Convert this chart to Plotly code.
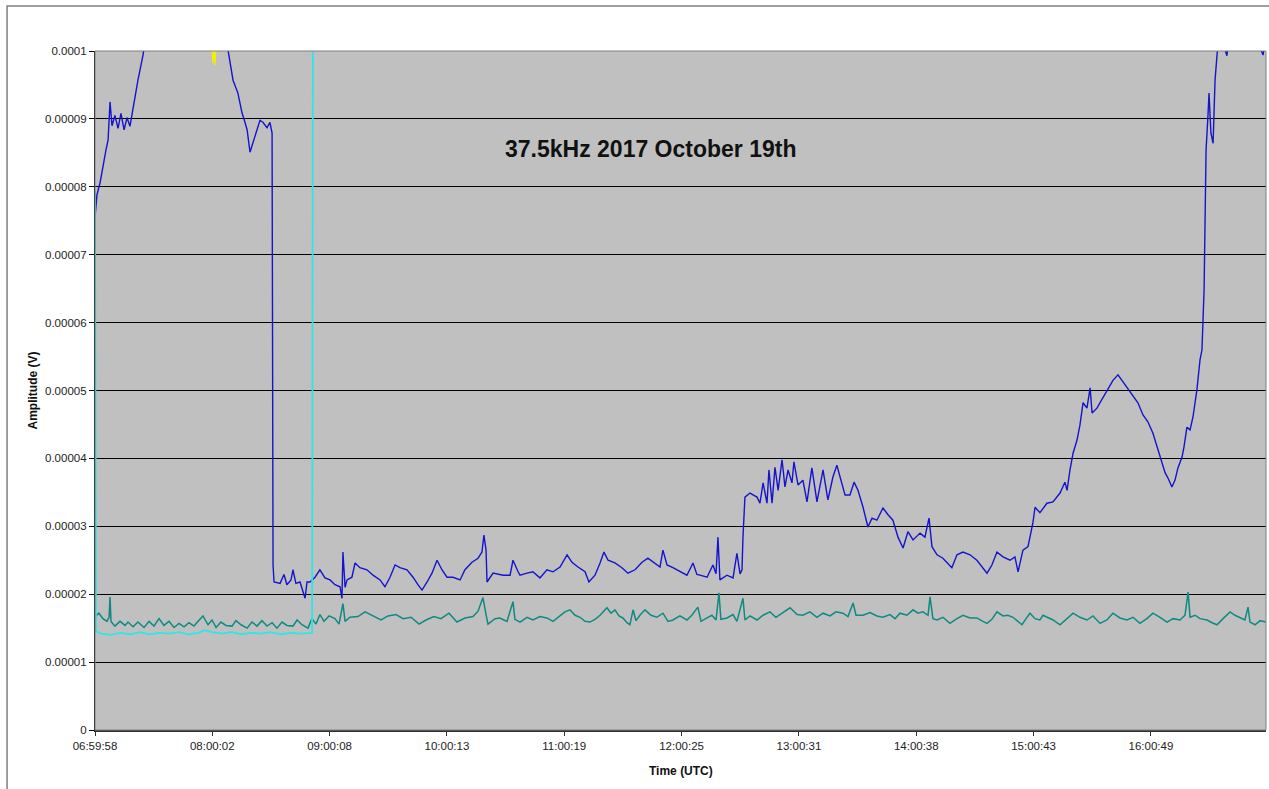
import plotly.graph_objects as go

# ---------------- data ----------------
START_LABEL = "06:59:58"
END_MINUTES = 599.8          # axis end, minutes after start

x_tick_labels = ["06:59:58", "08:00:02", "09:00:08", "10:00:13", "11:00:19",
                 "12:00:25", "13:00:31", "14:00:38", "15:00:43", "16:00:49"]
y_tick_labels = ["0", "0.00001", "0.00002", "0.00003", "0.00004", "0.00005",
                 "0.00006", "0.00007", "0.00008", "0.00009", "0.0001"]

# minutes after 06:59:58, amplitude in microvolts
blue_min = [0.0, 1.0, 2.6, 4.1, 5.6, 6.7, 7.7, 8.7, 10.2, 11.8, 13.3, 14.9, 16.4, 17.9, 19.5,
            21.0, 22.0, 23.6, 24.6, 25.6, 33.3, 43.5, 53.8, 61.5, 66.6, 68.1, 70.7, 73.2, 75.3,
            76.8, 77.9, 79.4, 80.9, 83.0, 84.5, 86.0, 88.1, 89.6, 90.7, 91.2, 91.7, 94.8, 96.8,
            98.3, 100.4, 101.4, 102.9, 105.0, 107.6, 108.6, 110.1, 112.7, 115.2, 117.8, 120.4,
            122.9, 125.5, 126.5, 127.0, 128.1, 129.1, 131.6, 133.2, 135.7, 139.3, 142.4, 146.0,
            148.5, 151.1, 153.7, 156.2, 159.8, 162.9, 165.4, 167.5, 170.1, 172.6, 175.2, 177.7,
            180.3, 183.4, 187.0, 189.5, 193.1, 196.2, 198.2, 199.2, 200.3, 200.8, 203.9, 209.0,
            212.6, 214.1, 216.7, 217.7, 221.3, 224.3, 227.9, 231.5, 234.6, 238.2, 241.8, 244.3,
            247.4, 251.0, 253.0, 256.1, 258.7, 260.7, 262.8, 266.3, 269.9, 273.0, 276.6, 280.2,
            283.2, 286.8, 289.4, 290.9, 293.0, 296.0, 299.6, 303.2, 306.3, 308.3, 309.9, 313.5,
            316.5, 318.1, 319.1, 320.1, 323.7, 326.8, 328.8, 330.4, 331.4, 331.9, 332.9, 335.5,
            339.1, 340.6, 342.2, 344.2, 345.2, 346.8, 348.3, 349.9, 351.9, 353.4, 355.0, 357.0,
            358.0, 360.1, 362.6, 364.7, 367.2, 369.8, 372.9, 375.4, 378.0, 380.0, 381.6, 384.2,
            386.7, 388.8, 390.8, 393.4, 395.9, 398.0, 400.5, 403.6, 406.2, 408.7, 411.3, 413.9,
            416.4, 419.0, 422.6, 425.1, 427.2, 428.7, 431.3, 434.3, 438.9, 441.5, 444.6, 448.2,
            451.7, 454.8, 456.9, 459.4, 462.0, 465.1, 468.7, 471.2, 472.8, 475.3, 477.9, 480.4,
            481.5, 484.0, 487.6, 490.7, 494.3, 496.8, 497.9, 499.4, 501.0, 503.0, 504.5, 506.1,
            508.1, 509.7, 510.7, 513.2, 516.3, 518.9, 521.4, 524.0, 526.0, 528.6, 531.7, 534.2,
            536.8, 539.3, 541.9, 544.5, 546.5, 548.1, 549.6, 551.6, 553.2, 554.7, 556.8, 557.8,
            559.3, 560.9, 562.4, 564.4, 566.0, 567.0, 568.1, 568.6, 569.1, 570.1, 570.6, 571.6,
            572.7, 573.7, 574.7, 575.7, 579.8, 581.4, 589.0, 598.3, 599.8]
blue_uv = [75.5, 78.8, 80.6, 83.2, 85.4, 86.9, 92.5, 89.0, 90.5, 88.6, 90.8, 88.4, 90.2, 88.9, 91.7,
           94.0, 95.7, 98.0, 99.4, 101.5, 106.0, 108.0, 107.0, 105.0, 102.0, 100.2, 95.7, 93.8, 90.9,
           89.5, 88.4, 85.1, 86.4, 88.4, 89.8, 89.5, 88.7, 89.5, 87.9, 24.3, 21.8, 21.6, 22.9,
           21.4, 22.1, 23.6, 21.6, 21.8, 19.4, 21.8, 21.8, 22.5, 23.6, 22.4, 22.1,
           21.4, 21.1, 19.4, 26.2, 21.0, 22.1, 22.5, 24.6, 23.9, 23.6, 22.8, 22.1,
           21.1, 22.5, 24.3, 23.9, 23.6, 22.5, 21.4, 20.6, 21.8, 23.1, 25.0, 23.6,
           22.5, 22.5, 22.1, 23.6, 24.7, 25.3, 26.2, 28.7, 26.5, 21.8, 23.1, 22.8,
           22.8, 25.0, 23.3, 22.8, 23.1, 23.3, 22.4, 23.6, 23.3, 24.0, 25.8, 24.7,
           24.0, 23.3, 21.8, 22.8, 24.6, 26.2, 25.0, 24.6, 23.9, 23.1, 23.6, 24.7,
           25.3, 24.6, 24.0, 26.5, 24.3, 23.9, 23.3, 22.8, 24.6, 22.9, 22.8, 22.5,
           24.3, 23.0, 28.4, 22.1, 22.8, 22.4, 26.0, 23.0, 23.6, 28.4, 34.3, 34.9,
           34.3, 33.4, 36.4, 33.4, 38.3, 33.4, 38.7, 35.3, 39.8, 35.8, 38.3, 36.4,
           39.5, 36.1, 36.8, 33.6, 38.6, 33.6, 38.3, 33.9, 37.3, 39.0, 37.3, 34.6,
           34.6, 36.5, 35.3, 32.8, 29.9, 31.2, 30.9, 32.7, 31.7, 30.9, 28.4, 26.8,
           29.2, 28.0, 29.0, 28.4, 31.2, 27.0, 25.8, 25.3, 23.9, 25.8, 26.2, 25.8,
           25.0, 23.9, 23.1, 24.3, 26.2, 25.5, 25.0, 25.5, 23.3, 26.5, 27.0, 30.5,
           32.8, 32.0, 33.4, 33.6, 34.9, 36.5, 35.3, 38.3, 40.8, 42.7, 44.9, 48.2,
           47.4, 50.4, 46.7, 47.4, 48.9, 50.1, 51.5, 52.3, 51.5, 50.5, 49.3, 48.2,
           46.4, 45.4, 43.7, 41.2, 39.3, 37.9, 37.1, 35.8, 36.8, 38.6, 40.2, 41.7,
           44.6, 44.2, 46.1, 50.1, 54.5, 56.0, 65.0, 80.0, 85.4, 90.6, 93.8, 87.9,
           86.4, 95.7, 100.1, 103.0, 99.3, 104.0, 106.0, 99.4, 103.0]

teal_min = [0.0, 2.0, 4.1, 6.1, 7.2, 7.7, 8.2, 10.2, 12.8, 15.4, 16.9, 19.5, 22.0, 25.1, 27.7,
            30.2, 32.8, 35.3, 37.9, 40.5, 43.0, 45.6, 48.1, 50.7, 52.8, 55.3, 57.9, 59.9, 62.0,
            64.5, 67.1, 70.2, 72.2, 74.8, 77.9, 80.4, 83.0, 85.5, 88.1, 90.7, 93.2, 95.8, 98.3,
            101.4, 103.5, 106.0, 109.1, 111.1, 113.2, 115.2, 117.3, 119.9, 122.9, 125.0, 127.0,
            128.1, 130.6, 134.7, 138.3, 141.9, 146.5, 150.1, 154.2, 157.8, 161.9, 166.0, 169.5,
            173.6, 177.2, 181.3, 185.4, 189.5, 193.6, 196.2, 198.7, 200.3, 201.3, 204.9, 207.4,
            211.0, 214.1, 215.1, 217.7, 221.3, 224.3, 227.9, 231.5, 234.6, 238.2, 240.7, 243.3,
            245.9, 248.4, 251.0, 253.5, 256.1, 258.7, 262.2, 264.3, 266.3, 268.4, 270.4, 272.5,
            274.0, 275.6, 277.1, 279.1, 281.7, 284.8, 287.8, 290.9, 293.5, 296.0, 299.6, 303.2,
            305.7, 308.8, 310.4, 313.5, 316.0, 318.1, 319.6, 320.6, 323.7, 326.8, 328.8, 331.9,
            332.9, 335.5, 339.1, 342.2, 345.7, 348.8, 352.4, 356.0, 359.6, 362.6, 366.2, 369.8,
            372.9, 376.5, 379.5, 383.1, 385.7, 388.3, 389.8, 393.4, 397.0, 400.5, 403.6, 407.2,
            409.8, 412.3, 415.9, 419.0, 421.5, 424.1, 426.7, 427.7, 429.2, 431.3, 434.3, 437.9,
            441.5, 444.6, 448.2, 451.7, 454.8, 456.9, 459.4, 462.0, 465.1, 467.6, 470.2, 472.8,
            474.8, 476.9, 478.9, 481.5, 484.0, 485.6, 487.6, 490.7, 494.3, 497.9, 501.0, 504.5,
            508.1, 511.2, 514.8, 518.3, 521.4, 525.0, 528.6, 531.7, 535.2, 538.8, 541.9, 545.5,
            549.1, 552.2, 555.8, 558.3, 559.9, 560.9, 563.5, 566.0, 569.6, 572.2, 574.7, 577.8,
            581.4, 583.9, 586.5, 589.0, 590.6, 591.6, 594.2, 596.8, 599.8]
teal_uv = [16.7, 17.2, 16.4, 16.0, 16.6, 19.6, 16.0, 15.3, 16.0, 15.4, 15.9, 15.2, 15.9, 15.1, 16.0,
           15.3, 16.4, 15.4, 16.0, 15.1, 15.7, 15.2, 15.8, 15.3, 16.0, 16.8, 15.5, 16.2, 15.1,
           15.9, 15.4, 15.3, 16.1, 15.5, 15.0, 15.9, 15.3, 16.1, 15.3, 15.8, 15.0, 15.9, 15.4,
           15.3, 16.2, 15.5, 15.0, 16.4, 15.6, 17.0, 16.0, 16.8, 16.4, 15.6, 18.6,
           16.0, 16.6, 16.7, 17.4, 16.9, 16.2, 16.8, 17.0, 16.4, 16.6, 15.6, 16.2,
           16.7, 16.4, 17.2, 15.9, 16.5, 16.7, 17.5, 19.5, 17.0, 15.6, 16.4, 16.5,
           16.0, 18.9, 16.3, 15.9, 16.6, 16.2, 16.7, 16.5, 16.0, 16.9, 17.4, 17.7,
           16.9, 16.6, 16.0, 15.9, 16.3, 16.9, 18.0, 17.2, 17.7, 16.8, 16.5, 15.8,
           15.5, 17.7, 16.1, 16.9, 17.7, 16.9, 16.6, 17.2, 16.0, 16.2, 16.8, 16.2,
           16.9, 18.1, 16.0, 16.5, 16.9, 16.2, 20.2, 16.3, 16.5, 17.0, 16.0, 19.4,
           16.2, 16.8, 16.2, 16.9, 17.4, 16.6, 17.3, 18.0, 17.0, 16.9, 17.4, 16.6,
           17.2, 16.8, 17.4, 17.2, 16.7, 18.7, 16.9, 16.9, 17.3, 16.8, 16.6, 17.0,
           16.4, 17.2, 16.9, 17.7, 17.2, 17.4, 16.9, 19.6, 16.4, 16.2, 16.6, 15.7,
           16.4, 16.9, 16.5, 16.5, 16.0, 15.7, 16.3, 17.4, 16.8, 16.9, 16.6, 16.0,
           15.5, 16.4, 17.2, 16.4, 16.2, 16.9, 16.6, 16.2, 15.5, 16.4, 17.2, 16.6,
           16.2, 16.8, 15.7, 16.2, 17.2, 16.5, 16.2, 16.6, 15.7, 16.4, 17.2, 16.6,
           15.9, 16.4, 16.2, 16.9, 20.3, 16.6, 16.9, 16.4, 16.2, 15.8, 15.5, 16.4,
           17.4, 16.9, 16.5, 16.2, 18.1, 15.9, 15.5, 16.1, 15.9]

cyan_min = [0.0, 0.5, 3.0, 8.0, 13.0, 18.0, 23.0, 28.0, 33.0, 38.0, 43.0, 48.0, 53.0, 56.0,
            60.0, 65.0, 70.0, 75.0, 80.0, 85.0, 90.0, 95.0, 100.0, 105.0, 111.2, 111.7,
            200.0, 300.0, 400.0, 500.0, 599.8]
cyan_uv = [79.5, 14.6, 14.2, 14.0, 14.3, 14.1, 14.4, 14.1, 14.3, 14.2, 14.4, 14.1, 14.3, 14.7,
           14.4, 14.2, 14.4, 14.1, 14.3, 14.2, 14.4, 14.1, 14.3, 14.2, 14.3, 125.0,
           128.0, 126.0, 127.0, 129.0, 128.0]

yellow_min = [0.0, 50.0, 59.5, 60.4, 60.9, 61.4, 61.9, 62.6, 70.0, 200.0, 400.0, 599.8]
yellow_uv = [118.0, 112.0, 104.0, 98.2, 101.0, 97.9, 100.5, 104.0, 112.0, 118.0, 115.0, 116.0]

TITLE = "37.5kHz 2017 October 19th"
X_TITLE = "Time (UTC)"
Y_TITLE = "Amplitude (V)"


# ---------------- helpers ----------------
def seconds(label):
    h, m, s = (int(p) for p in label.split(":"))
    return h * 3600 + m * 60 + s


def to_volts(values_uv):
    return [v * 1e-6 for v in values_uv]


tick_positions = [(seconds(t) - seconds(START_LABEL)) / 60.0 for t in x_tick_labels]
y_tick_values = [float(t) for t in y_tick_labels]

FONT = "Liberation Sans, Arial, sans-serif"

fig = go.Figure()
fig.add_trace(go.Scatter(x=yellow_min, y=to_volts(yellow_uv), mode="lines",
                         line=dict(color="#F0F000", width=1.4), name="yellow"))
fig.add_trace(go.Scatter(x=teal_min, y=to_volts(teal_uv), mode="lines",
                         line=dict(color="#0E8A80", width=1.5), name="teal"))
fig.add_trace(go.Scatter(x=blue_min, y=to_volts(blue_uv), mode="lines",
                         line=dict(color="#1414CC", width=1.4), name="blue"))
fig.add_trace(go.Scatter(x=cyan_min, y=to_volts(cyan_uv), mode="lines",
                         line=dict(color="#2EE6E6", width=1.8), name="cyan"))

fig.update_layout(
    width=1269, height=789, autosize=False,
    margin=dict(l=95, r=3, t=51, b=59),
    paper_bgcolor="white", plot_bgcolor="#C0C0C0",
    showlegend=False,
    font=dict(family=FONT, size=11.5, color="#222222"),
)
fig.update_xaxes(
    range=[0, END_MINUTES], tickmode="array", tickvals=tick_positions, ticktext=x_tick_labels,
    showgrid=False, zeroline=False, showline=True, linecolor="#303030", linewidth=1.5,
    ticks="outside", ticklen=4, tickcolor="#303030", tickwidth=1,
    tickfont=dict(family=FONT, size=11.5, color="#222222"),
)
fig.update_yaxes(
    range=[0, 1e-4], tickmode="array", tickvals=y_tick_values, ticktext=y_tick_labels,
    showgrid=True, gridcolor="#000000", gridwidth=1, zeroline=False,
    showline=True, linecolor="#000000", linewidth=1.2,
    ticks="outside", ticklen=5, tickcolor="#000000", tickwidth=1,
    tickfont=dict(family=FONT, size=11.5, color="#222222"),
)

# plot-area border and outer chart frame
fig.add_shape(type="rect", xref="paper", yref="paper", x0=0, y0=0, x1=1, y1=1,
              line=dict(color="#808080", width=1), layer="above")
fig.add_shape(type="rect", xref="paper", yref="paper", x0=-0.0751, y0=-0.2, x1=1.01, y1=1.0663,
              line=dict(color="#808080", width=1.5), layer="above")

fig.add_annotation(text=f"<b>{TITLE}</b>", xref="paper", yref="paper", x=0.4748, y=0.8557,
                   xanchor="center", yanchor="middle", showarrow=False,
                   font=dict(family=FONT, size=23, color="#111111"))
fig.add_annotation(text=f"<b>{X_TITLE}</b>", xref="paper", yref="paper", x=0.5, y=-0.0604,
                   xanchor="center", yanchor="middle", showarrow=False,
                   font=dict(family=FONT, size=12, color="#111111"))
fig.add_annotation(text=f"<b>{Y_TITLE}</b>", xref="paper", yref="paper", x=-0.0538, y=0.5,
                   xanchor="center", yanchor="middle", showarrow=False, textangle=-90,
                   font=dict(family=FONT, size=12, color="#111111"))

fig.write_html("out.html", config={"displayModeBar": False},
               post_script="document.body.style.margin='0';document.body.style.overflow='hidden';")
